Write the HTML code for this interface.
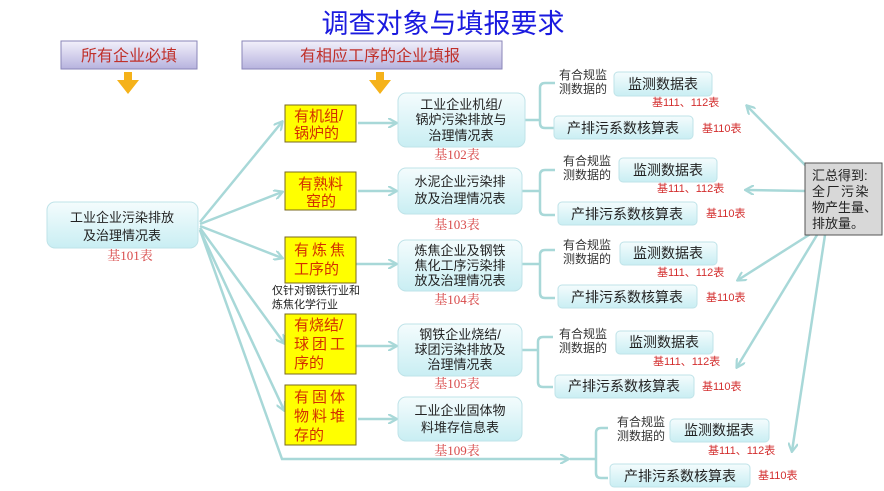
<!DOCTYPE html>
<html><head><meta charset="utf-8"><style>
html,body{margin:0;padding:0;background:#fff;}
svg{display:block;}
text{font-family:"Liberation Sans","Noto Sans CJK SC",sans-serif;}
.t{fill:#222;font-size:13px;text-anchor:middle;}
.r{fill:#d32f2f;font-size:11px;}
.rs{fill:#d84a4a;font-size:13px;text-anchor:middle;font-family:"Liberation Serif","Noto Serif CJK SC",serif;}
.y{fill:#d32f00;font-size:15px;}
.ln{stroke:#a8d8d8;stroke-width:2.5;fill:none;}
</style></head><body>
<svg width="884" height="491" viewBox="0 0 884 491">
<defs>
<linearGradient id="cb" x1="0" y1="0" x2="0" y2="1"><stop offset="0" stop-color="#f4fcfd"/><stop offset="1" stop-color="#c9eef3"/></linearGradient>
<linearGradient id="pb" x1="0" y1="0" x2="0" y2="1"><stop offset="0" stop-color="#f2f0fb"/><stop offset="1" stop-color="#b7b3de"/></linearGradient>
<marker id="a" markerWidth="10" markerHeight="10" refX="8" refY="5" orient="auto" markerUnits="userSpaceOnUse"><path d="M0,0 L9,5 L0,10" fill="none" stroke="#a8d8d8" stroke-width="2.2"/></marker>
</defs>
<text x="443" y="33" font-size="27" fill="#1a1adf" text-anchor="middle">调查对象与填报要求</text>
<rect x="61" y="41" width="136" height="28" fill="url(#pb)" stroke="#8a86b8"/>
<text x="129" y="61" font-size="16" fill="#c0302a" text-anchor="middle">所有企业必填</text>
<rect x="242" y="41" width="260" height="28" fill="url(#pb)" stroke="#8a86b8"/>
<text x="380" y="61" font-size="16" fill="#c0302a" text-anchor="middle">有相应工序的企业填报</text>
<path d="M124,72h8v8h7l-11,14l-11,-14h7z" fill="#f5b21a"/>
<path d="M376,72h8v8h7l-11,14l-11,-14h7z" fill="#f5b21a"/>

<g class="ln">
<line x1="200" y1="222" x2="282" y2="122" marker-end="url(#a)"/>
<line x1="200" y1="224" x2="282" y2="192" marker-end="url(#a)"/>
<line x1="200" y1="226" x2="282" y2="258" marker-end="url(#a)"/>
<line x1="200" y1="228" x2="284" y2="343" marker-end="url(#a)"/>
<line x1="200" y1="230" x2="284" y2="410" marker-end="url(#a)"/>
<polyline points="200,230 282,459 568,459" marker-end="url(#a)"/>
<line x1="358" y1="123" x2="396" y2="123" marker-end="url(#a)"/>
<line x1="358" y1="191" x2="396" y2="191" marker-end="url(#a)"/>
<line x1="352" y1="264" x2="396" y2="264" marker-end="url(#a)"/>
<line x1="352" y1="346" x2="396" y2="346" marker-end="url(#a)"/>
<line x1="358" y1="419" x2="396" y2="419" marker-end="url(#a)"/>
<path d="M525,120h15M555,83h-10q-5,0 -5,5v35q0,5 5,5h10"/>
<path d="M522,191h18M555,170h-10q-5,0 -5,5v35q0,5 5,5h10"/>
<path d="M522,264h18M555,250h-10q-5,0 -5,5v38q0,5 5,5h10"/>
<path d="M522,350h16M553,337h-10q-5,0 -5,5v40q0,5 5,5h10"/>
<path d="M570,459h26M608,428h-7q-5,0 -5,5v40q0,5 5,5h7"/>
<line x1="808" y1="168" x2="747" y2="106" marker-end="url(#a)"/>
<line x1="806" y1="191" x2="746" y2="190" marker-end="url(#a)"/>
<line x1="812" y1="233" x2="738" y2="280" marker-end="url(#a)"/>
<line x1="817" y1="235" x2="737" y2="367" marker-end="url(#a)"/>
<line x1="825" y1="235" x2="792" y2="451" marker-end="url(#a)"/>
</g>

<rect x="47" y="202" width="151" height="46" rx="8" fill="url(#cb)" stroke="#bfe3e8"/>
<text class="t" x="122" y="222" font-size="14">工业企业污染排放</text>
<text class="t" x="122" y="240" font-size="14">及治理情况表</text>
<text class="rs" x="130" y="260">基101表</text>

<g fill="#ffff00" stroke="#7a6a20" stroke-width="1">
<rect x="285" y="105" width="71" height="37"/>
<rect x="285" y="172" width="71" height="38"/>
<rect x="285" y="237" width="71" height="46"/>
<rect x="285" y="314" width="71" height="60"/>
<rect x="285" y="385" width="71" height="60"/>
</g>
<g class="y">
<text x="294" y="121">有机组/</text><text x="294" y="138">锅炉的</text>
<text x="298" y="189">有熟料</text><text x="306" y="206">窑的</text>
<text x="294" y="255" letter-spacing="3">有炼焦</text><text x="294" y="274">工序的</text>
<text x="294" y="330">有烧结/</text><text x="294" y="349" letter-spacing="3">球团工</text><text x="294" y="368">序的</text>
<text x="294" y="402" letter-spacing="3">有固体</text><text x="294" y="421" letter-spacing="3">物料堆</text><text x="294" y="440">存的</text>
</g>
<text x="272" y="294" font-size="11" fill="#222">仅针对钢铁行业和</text>
<text x="272" y="308" font-size="11" fill="#222">炼焦化学行业</text>

<g fill="url(#cb)" stroke="#bfe3e8">
<rect x="398" y="93" width="127" height="54" rx="8"/>
<rect x="398" y="168" width="124" height="46" rx="8"/>
<rect x="398" y="240" width="124" height="51" rx="8"/>
<rect x="398" y="324" width="124" height="52" rx="8"/>
<rect x="398" y="397" width="124" height="44" rx="8"/>
</g>
<text class="t" x="461" y="109">工业企业机组/</text><text class="t" x="461" y="124">锅炉污染排放与</text><text class="t" x="461" y="140">治理情况表</text>
<text class="rs" x="457" y="159">基102表</text>
<text class="t" x="460" y="186">水泥企业污染排</text><text class="t" x="460" y="203">放及治理情况表</text>
<text class="rs" x="457" y="229">基103表</text>
<text class="t" x="460" y="255">炼焦企业及钢铁</text><text class="t" x="460" y="270">焦化工序污染排</text><text class="t" x="460" y="285">放及治理情况表</text>
<text class="rs" x="457" y="304">基104表</text>
<text class="t" x="460" y="339">钢铁企业烧结/</text><text class="t" x="460" y="354">球团污染排放及</text><text class="t" x="460" y="369">治理情况表</text>
<text class="rs" x="457" y="388">基105表</text>
<text class="t" x="460" y="415">工业企业固体物</text><text class="t" x="460" y="432">料堆存信息表</text>
<text class="rs" x="457" y="455">基109表</text>

<g fill="url(#cb)" stroke="#bfe3e8">
<rect x="614" y="72" width="98" height="24" rx="4"/><rect x="554" y="116" width="139" height="23" rx="4"/>
<rect x="619" y="158" width="98" height="24" rx="4"/><rect x="558" y="202" width="139" height="23" rx="4"/>
<rect x="620" y="242" width="97" height="23" rx="4"/><rect x="558" y="285" width="139" height="23" rx="4"/>
<rect x="616" y="331" width="97" height="23" rx="4"/><rect x="555" y="375" width="139" height="23" rx="4"/>
<rect x="670" y="419" width="99" height="23" rx="4"/><rect x="610" y="464" width="140" height="23" rx="4"/>
</g>
<g font-size="12" fill="#333" text-anchor="middle">
<text x="583" y="79">有合规监</text><text x="583" y="93">测数据的</text>
<text x="587" y="165">有合规监</text><text x="587" y="179">测数据的</text>
<text x="587" y="249">有合规监</text><text x="587" y="263">测数据的</text>
<text x="583" y="338">有合规监</text><text x="583" y="352">测数据的</text>
<text x="641" y="426">有合规监</text><text x="641" y="440">测数据的</text>
</g>
<g font-size="14" fill="#222" text-anchor="middle">
<text x="663" y="89">监测数据表</text><text x="623" y="133">产排污系数核算表</text>
<text x="668" y="175">监测数据表</text><text x="627" y="219">产排污系数核算表</text>
<text x="668" y="258">监测数据表</text><text x="627" y="302">产排污系数核算表</text>
<text x="664" y="347">监测数据表</text><text x="624" y="391">产排污系数核算表</text>
<text x="719" y="435">监测数据表</text><text x="680" y="481">产排污系数核算表</text>
</g>
<g class="r">
<text x="652" y="106">基111、112表</text><text x="702" y="132">基110表</text>
<text x="657" y="192">基111、112表</text><text x="706" y="217">基110表</text>
<text x="657" y="276">基111、112表</text><text x="706" y="301">基110表</text>
<text x="653" y="365">基111、112表</text><text x="702" y="390">基110表</text>
<text x="708" y="454">基111、112表</text><text x="758" y="479">基110表</text>
</g>

<rect x="805" y="163" width="77" height="72" fill="#d8d8d8" stroke="#555"/>
<g font-size="13" fill="#222">
<text x="812" y="180">汇总得到:</text>
<text x="812" y="196" letter-spacing="1.5">全厂污染</text>
<text x="812" y="212">物产生量、</text>
<text x="812" y="228">排放量。</text>
</g>
</svg>
</body></html>
